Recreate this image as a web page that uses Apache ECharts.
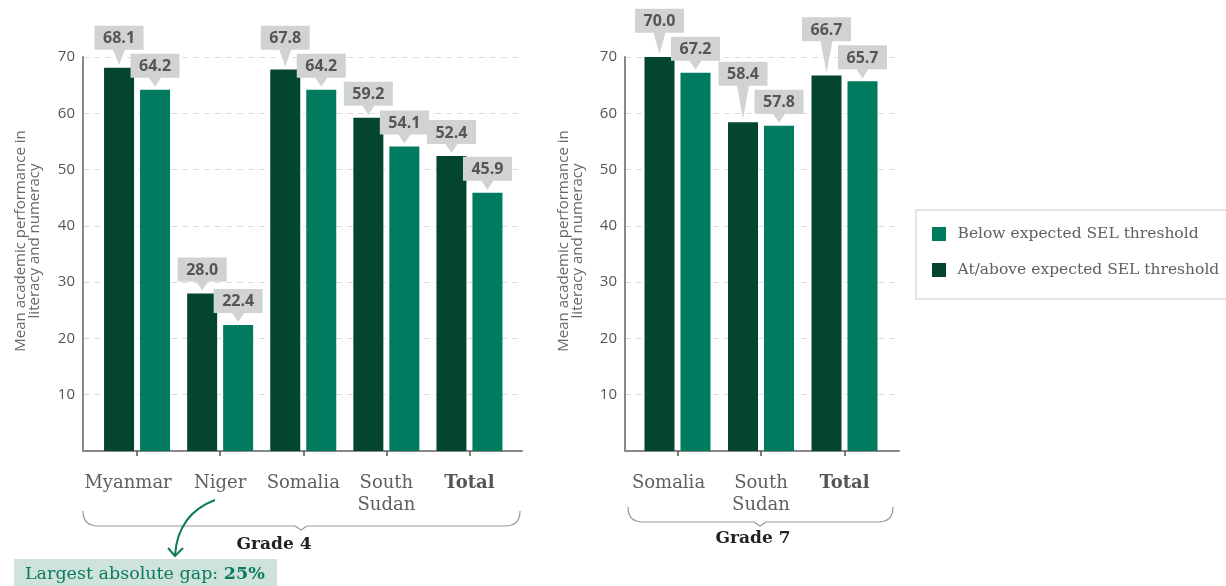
<!DOCTYPE html>
<html>
<head>
<meta charset="utf-8">
<script src="https://cdn.jsdelivr.net/npm/echarts@6/dist/echarts.min.js"></script>
<style>
  html, body { margin: 0; padding: 0; background: #fff; }
  #chart { width: 1226px; height: 586px; }
</style>
</head>
<body>
<div id="chart"></div>
<script>
// Grade 4 results
const grade4Categories = ['Myanmar', 'Niger', 'Somalia', 'South\nSudan', 'Total'];
const grade4AtAbove = [68.1, 28.0, 67.8, 59.2, 52.4];
const grade4Below = [64.2, 22.4, 64.2, 54.1, 45.9];

// Grade 7 results
const grade7Categories = ['Somalia', 'South\nSudan', 'Total'];
const grade7AtAbove = [70.0, 58.4, 66.7];
const grade7Below = [67.2, 57.8, 65.7];

// Value axis
const yMin = 0;
const yMax = 70;
const yStep = 10;

const seriesNames = ['At/above expected SEL threshold', 'Below expected SEL threshold'];

const DARK = '#044530';
const LIGHT = '#007b60';
const TEAL = '#0c7a5f';
const SERIF = '"DejaVu Serif", "Liberation Serif", serif';
const SANS = '"Open Sans", "Noto Sans", sans-serif';

const chart = echarts.init(document.getElementById('chart'), null, { renderer: 'canvas' });

const TOP = 57;
const HEIGHT = 394;
const BAR_OFFSET = 18;
const BOX_W = 49, BOX_H = 24;

// Callout box with a downward pointer
function callout(cx, boxBottom, tipY, text) {
  const x0 = cx - BOX_W / 2, x1 = cx + BOX_W / 2;
  const y0 = boxBottom - BOX_H, y1 = boxBottom;
  return [
    {
      type: 'polygon',
      shape: { points: [[x0, y0], [x1, y0], [x1, y1], [cx + 6, y1], [cx, tipY], [cx - 6, y1], [x0, y1]] },
      style: { fill: '#d1d2d4' }
    },
    {
      type: 'text',
      style: {
        text: text, x: cx, y: (y0 + y1) / 2 + 1, align: 'center', verticalAlign: 'middle',
        font: 'bold 16px ' + SANS, fill: '#555'
      }
    }
  ];
}

// Both callouts of a category: the darker one is lifted clear of the lighter one
function renderCallouts(params, api) {
  const i = api.value(0);
  const d = api.value(1), l = api.value(2);
  const pd = api.coord([i, d]);
  const pl = api.coord([i, l]);
  const lightBottom = pl[1] - 12;
  const lightTop = lightBottom - BOX_H;
  const darkBottom = Math.min(pd[1] - 12, lightTop - 4);
  return {
    type: 'group',
    children: [].concat(
      callout(pd[0] - BAR_OFFSET, darkBottom, pd[1] - 3, d.toFixed(1)),
      callout(pl[0] + BAR_OFFSET, lightBottom, pl[1] - 3, l.toFixed(1))
    )
  };
}

function categoryLabel(v, idx) {
  if (v === 'Total') return '{b|Total}';
  if (idx === 0) return '{f|' + v + '}';
  return v;
}

function bgYAxis(gridIndex) {
  return {
    type: 'value', gridIndex: gridIndex, min: yMin, max: yMax, interval: yStep,
    axisLine: { show: true, lineStyle: { color: '#888', width: 2 } },
    axisTick: { show: false },
    axisLabel: {
      color: '#555', fontFamily: SANS, fontSize: 15, margin: 8,
      formatter: v => (v === 0 ? '' : String(v))
    },
    splitLine: { show: true, lineStyle: { color: '#dcdcdc', type: [6, 5], width: 1.2 } }
  };
}

function bgXAxis(gridIndex) {
  return {
    type: 'value', gridIndex: gridIndex, min: 0, max: 1,
    axisLine: { show: true, onZero: false, lineStyle: { color: '#888', width: 2 } },
    axisTick: { show: false }, axisLabel: { show: false }, splitLine: { show: false }
  };
}

function barXAxis(gridIndex, cats) {
  return {
    type: 'category', gridIndex: gridIndex, data: cats, offset: 4,
    axisLine: { show: false },
    axisTick: { show: true, alignWithLabel: true, length: 5, lineStyle: { color: '#555', width: 1.5 } },
    axisLabel: {
      formatter: categoryLabel, color: '#5f6062', fontFamily: SERIF, fontSize: 18,
      lineHeight: 22, margin: 17, interval: 0,
      rich: {
        b: { fontWeight: 'bold', color: '#555', fontFamily: SERIF, fontSize: 18, lineHeight: 22 },
        f: { color: '#5f6062', fontFamily: SERIF, fontSize: 18, lineHeight: 22, padding: [0, 18, 0, 0] }
      }
    }
  };
}

function barYAxis(gridIndex) {
  return {
    type: 'value', gridIndex: gridIndex, min: yMin, max: yMax, interval: yStep,
    show: false, splitLine: { show: false }
  };
}

function barSeries(name, axisIndex, values, color) {
  return {
    name: name, type: 'bar', xAxisIndex: axisIndex, yAxisIndex: axisIndex,
    data: values, barWidth: 30, barGap: '20%', itemStyle: { color: color }, z: 3,
    emphasis: { disabled: true }
  };
}

function calloutSeries(axisIndex, atAbove, below) {
  return {
    type: 'custom', xAxisIndex: axisIndex, yAxisIndex: axisIndex,
    data: atAbove.map((v, i) => [i, v, below[i]]),
    encode: { x: 0, y: [1, 2] },
    renderItem: renderCallouts, clip: false, z: 10, silent: true
  };
}

const BRACE = { stroke: '#9a9a9a', lineWidth: 1.2, fill: null };

function brace(x0, x1, yTop, yBottom, tipX) {
  const r = yBottom - yTop;
  return [
    { type: 'bezierCurve', shape: { x1: x0, y1: yTop, cpx1: x0, cpy1: yBottom, x2: x0 + r, y2: yBottom }, style: BRACE },
    { type: 'line', shape: { x1: x0 + r, y1: yBottom, x2: tipX - 6, y2: yBottom }, style: BRACE },
    { type: 'polyline', shape: { points: [[tipX - 6, yBottom], [tipX, yBottom + 4], [tipX + 6, yBottom]] }, style: BRACE },
    { type: 'line', shape: { x1: tipX + 6, y1: yBottom, x2: x1 - r, y2: yBottom }, style: BRACE },
    { type: 'bezierCurve', shape: { x1: x1 - r, y1: yBottom, cpx1: x1, cpy1: yBottom, x2: x1, y2: yTop }, style: BRACE }
  ];
}

function axisTitle(x) {
  return {
    type: 'text', x: x, y: 241, rotation: Math.PI / 2,
    style: {
      text: 'Mean academic performance in\nliteracy and numeracy', align: 'center', verticalAlign: 'middle',
      font: '15px ' + SANS, fill: '#666', lineHeight: 14
    }
  };
}

const option = {
  animation: false,
  grid: [
    { left: 83, top: TOP, width: 439, height: HEIGHT },      // grade 4 frame
    { left: 95.5, top: TOP, width: 415.5, height: HEIGHT },  // grade 4 bars
    { left: 625, top: TOP, width: 274, height: HEIGHT },     // grade 7 frame
    { left: 635.75, top: TOP, width: 250.5, height: HEIGHT } // grade 7 bars
  ],
  xAxis: [bgXAxis(0), barXAxis(1, grade4Categories), bgXAxis(2), barXAxis(3, grade7Categories)],
  yAxis: [bgYAxis(0), barYAxis(1), bgYAxis(2), barYAxis(3)],
  legend: {
    data: [seriesNames[1], seriesNames[0]],
    orient: 'vertical', left: 916, top: 210,
    padding: [14, 30, 19, 16], itemGap: 16,
    itemWidth: 27, itemHeight: 14,
    icon: 'path://M0,0h10v10h-10z',
    borderColor: '#dddddd', borderWidth: 1.5,
    textStyle: { fontFamily: SERIF, fontSize: 15.5, color: '#5f6062', lineHeight: 20 },
    selectedMode: false
  },
  series: [
    barSeries(seriesNames[0], 1, grade4AtAbove, DARK),
    barSeries(seriesNames[1], 1, grade4Below, LIGHT),
    calloutSeries(1, grade4AtAbove, grade4Below),
    barSeries(seriesNames[0], 3, grade7AtAbove, DARK),
    barSeries(seriesNames[1], 3, grade7Below, LIGHT),
    calloutSeries(3, grade7AtAbove, grade7Below)
  ],
  graphic: [].concat(
    [axisTitle(28), axisTitle(571)],
    brace(83, 520, 511, 526, 301),
    [{
      type: 'text', x: 274, y: 545,
      style: { text: 'Grade 4', align: 'center', verticalAlign: 'middle', font: 'bold 17px ' + SERIF, fill: '#222' }
    }],
    brace(628, 893, 507, 522, 760),
    [{
      type: 'text', x: 753, y: 539,
      style: { text: 'Grade 7', align: 'center', verticalAlign: 'middle', font: 'bold 17px ' + SERIF, fill: '#222' }
    }],
    [
      // gap annotation
      { type: 'rect', shape: { x: 14, y: 559, width: 263, height: 32 }, style: { fill: '#cfe3dc' } },
      {
        type: 'text', x: 25, y: 574,
        style: {
          text: '{r|Largest absolute gap: }{b|25%}', verticalAlign: 'middle', align: 'left',
          rich: {
            r: { font: '17.5px ' + SERIF, fill: TEAL },
            b: { font: 'bold 17.5px ' + SERIF, fill: TEAL }
          }
        }
      },
      { type: 'bezierCurve', shape: { x1: 215, y1: 500, cpx1: 178, cpy1: 514, x2: 175, y2: 555 }, style: { stroke: TEAL, lineWidth: 2, fill: null } },
      { type: 'polyline', shape: { points: [[168, 548], [175, 556], [183, 548]] }, style: { stroke: TEAL, lineWidth: 2, fill: null } }
    ]
  )
};

chart.setOption(option);
</script>
</body>
</html>
